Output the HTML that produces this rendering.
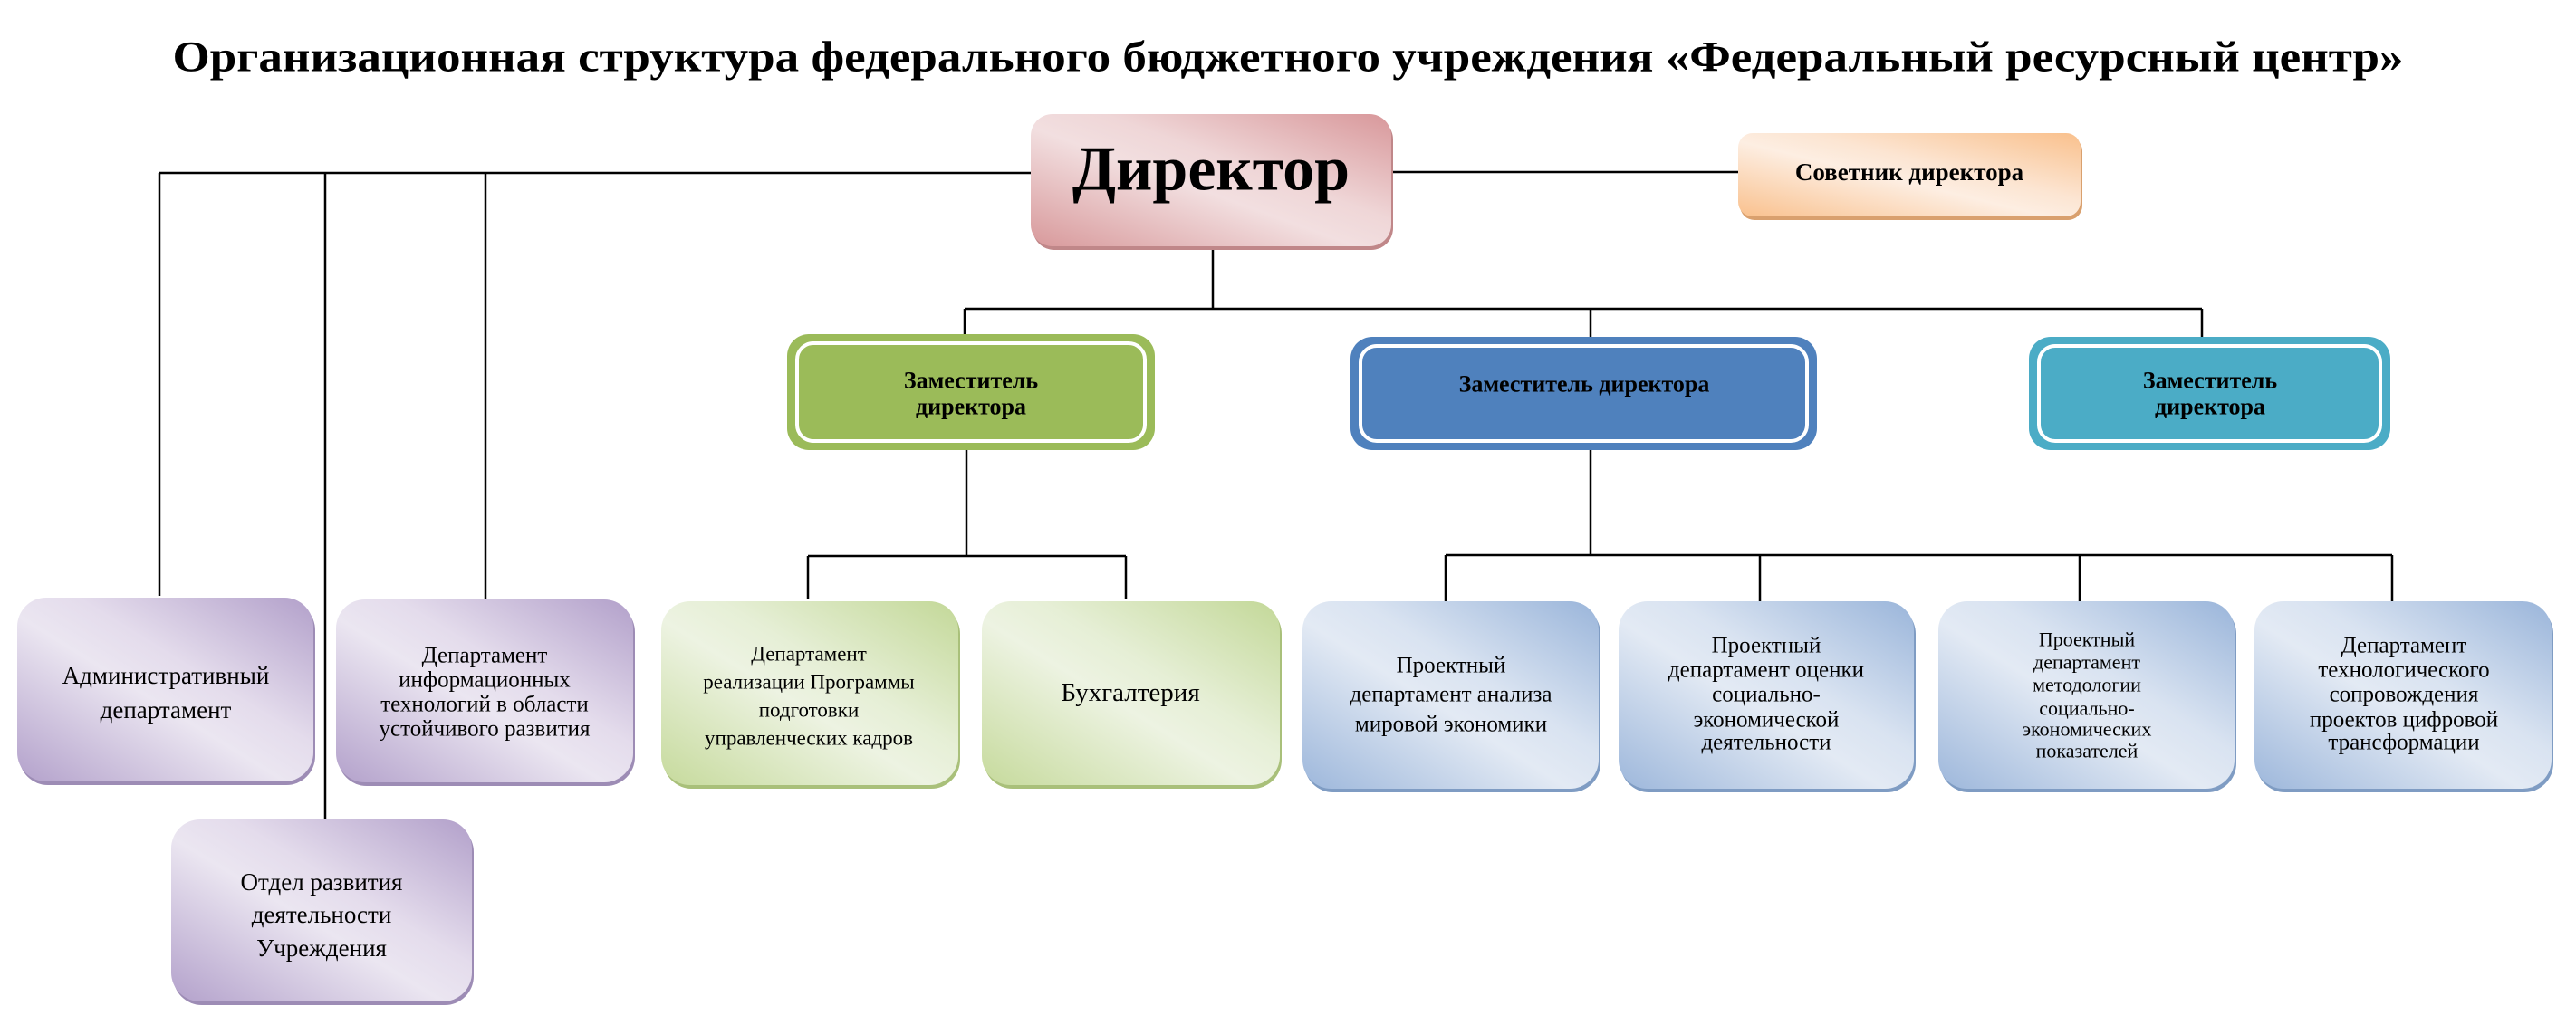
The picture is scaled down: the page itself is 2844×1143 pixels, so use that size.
<!DOCTYPE html>
<html><head><meta charset="utf-8"><style>
html,body{margin:0;padding:0;background:#fff;}
svg{display:block;}
text{font-family:"Liberation Serif","Noto Serif CJK SC",serif;fill:#000;}
</style></head><body>
<svg width="2844" height="1143" viewBox="0 0 2844 1143" xmlns="http://www.w3.org/2000/svg">
<defs>
<linearGradient id="gP" x1="0" y1="1" x2="1" y2="0">
<stop offset="0" stop-color="#b3a1cb"/><stop offset="0.45" stop-color="#ebe6f1"/><stop offset="0.6" stop-color="#e4dcec"/><stop offset="1" stop-color="#b2a0ca"/></linearGradient>
<linearGradient id="gG" x1="0" y1="1" x2="1" y2="0">
<stop offset="0" stop-color="#c6da9c"/><stop offset="0.45" stop-color="#edf3e2"/><stop offset="0.6" stop-color="#e6efd6"/><stop offset="1" stop-color="#c3d898"/></linearGradient>
<linearGradient id="gB" x1="0" y1="1" x2="1" y2="0">
<stop offset="0" stop-color="#9db7db"/><stop offset="0.45" stop-color="#e3eaf4"/><stop offset="0.6" stop-color="#d9e3f1"/><stop offset="1" stop-color="#9ab5da"/></linearGradient>
<linearGradient id="gR" x1="0" y1="1" x2="1" y2="0">
<stop offset="0" stop-color="#d8999b"/><stop offset="0.45" stop-color="#f2dfe0"/><stop offset="0.6" stop-color="#efd6d7"/><stop offset="1" stop-color="#d8979a"/></linearGradient>
<linearGradient id="gO" x1="0" y1="1" x2="1" y2="0">
<stop offset="0" stop-color="#f9c18e"/><stop offset="0.45" stop-color="#fdeee2"/><stop offset="0.6" stop-color="#fce5d2"/><stop offset="1" stop-color="#f9c08c"/></linearGradient>
</defs>

<text x="1422" y="63" text-anchor="middle" dominant-baseline="central" font-size="48" font-weight="bold" textLength="2463" lengthAdjust="spacingAndGlyphs">Организационная структура федерального бюджетного учреждения «Федеральный ресурсный центр»</text>

<g stroke="#000" stroke-width="2.5" fill="none">
<path d="M176 191H1138M176 191V658M359 191V905M536 191V662"/>
<path d="M1536 190H1919"/>
<path d="M1339 272V341M1065 341H2431M1065 341V369M1756 341V372M2431 341V372"/>
<path d="M1067 497V614M892 614H1243M892 614V662M1243 614V662"/>
<path d="M1756 497V613M1596 613H2641M1596 613V664M1943 613V664M2296 613V664M2641 613V664"/>
</g>

<rect x="1140" y="130" width="398" height="146" rx="24" fill="#c08789"/>
<rect x="1138" y="126" width="398" height="146" rx="24" fill="url(#gR)"/>
<text x="1337" y="187" text-anchor="middle" dominant-baseline="central" font-size="70" font-weight="bold">Директор</text>

<rect x="1921" y="151" width="378" height="92" rx="16" fill="#d9a06e"/>
<rect x="1919" y="147" width="378" height="92" rx="16" fill="url(#gO)"/>
<text x="2108" y="190" text-anchor="middle" dominant-baseline="central" font-size="27" font-weight="bold">Советник директора</text>

<rect x="869" y="369" width="406" height="128" rx="24" fill="#9bbb59"/>
<rect x="880" y="379" width="384" height="108" rx="18" fill="none" stroke="#fff" stroke-width="4"/>
<text x="1072" y="420" text-anchor="middle" dominant-baseline="central" font-size="26" font-weight="bold">Заместитель</text>
<text x="1072" y="449" text-anchor="middle" dominant-baseline="central" font-size="26" font-weight="bold">директора</text>

<rect x="1491" y="372" width="515" height="125" rx="24" fill="#4f81bd"/>
<rect x="1502" y="382" width="493" height="105" rx="18" fill="none" stroke="#fff" stroke-width="4"/>
<text x="1749" y="424" text-anchor="middle" dominant-baseline="central" font-size="26" font-weight="bold">Заместитель директора</text>

<rect x="2240" y="372" width="399" height="125" rx="24" fill="#4bacc6"/>
<rect x="2251" y="382" width="377" height="105" rx="18" fill="none" stroke="#fff" stroke-width="4"/>
<text x="2440" y="420" text-anchor="middle" dominant-baseline="central" font-size="26" font-weight="bold">Заместитель</text>
<text x="2440" y="449" text-anchor="middle" dominant-baseline="central" font-size="26" font-weight="bold">директора</text>

<g>
<rect x="21" y="664" width="327" height="203" rx="32" fill="#9d8cb5"/>
<rect x="19" y="660" width="327" height="203" rx="32" fill="url(#gP)"/>
<rect x="373" y="666" width="328" height="202" rx="32" fill="#9d8cb5"/>
<rect x="371" y="662" width="328" height="202" rx="32" fill="url(#gP)"/>
<rect x="191" y="909" width="332" height="201" rx="32" fill="#9d8cb5"/>
<rect x="189" y="905" width="332" height="201" rx="32" fill="url(#gP)"/>
</g>
<g font-size="27" text-anchor="middle" dominant-baseline="central">
<text x="183" y="746">Административный</text>
<text x="183" y="784">департамент</text>
<text x="535" y="724" font-size="25">Департамент</text>
<text x="535" y="751" font-size="25">информационных</text>
<text x="535" y="778" font-size="25">технологий в области</text>
<text x="535" y="805" font-size="25">устойчивого развития</text>
<text x="355" y="974">Отдел развития</text>
<text x="355" y="1010">деятельности</text>
<text x="355" y="1047">Учреждения</text>
</g>

<rect x="732" y="668" width="328" height="203" rx="32" fill="#a9c07a"/>
<rect x="730" y="664" width="328" height="203" rx="32" fill="url(#gG)"/>
<rect x="1086" y="668" width="329" height="203" rx="32" fill="#a9c07a"/>
<rect x="1084" y="664" width="329" height="203" rx="32" fill="url(#gG)"/>
<g text-anchor="middle" dominant-baseline="central" font-size="23">
<text x="893" y="722">Департамент</text>
<text x="893" y="753">реализации Программы</text>
<text x="893" y="784">подготовки</text>
<text x="893" y="815">управленческих кадров</text>
<text x="1248" y="765" font-size="29">Бухгалтерия</text>
</g>

<g fill="#7f9cc3">
<rect x="1440" y="668" width="327" height="207" rx="32"/>
<rect x="1789" y="668" width="326" height="207" rx="32"/>
<rect x="2142" y="668" width="327" height="207" rx="32"/>
<rect x="2491" y="668" width="328" height="207" rx="32"/>
</g>
<g fill="url(#gB)">
<rect x="1438" y="664" width="327" height="207" rx="32"/>
<rect x="1787" y="664" width="326" height="207" rx="32"/>
<rect x="2140" y="664" width="327" height="207" rx="32"/>
<rect x="2489" y="664" width="328" height="207" rx="32"/>
</g>
<g text-anchor="middle" dominant-baseline="central" font-size="25">
<text x="1602" y="735">Проектный</text>
<text x="1602" y="767">департамент анализа</text>
<text x="1602" y="800">мировой экономики</text>
<text x="1950" y="713">Проектный</text>
<text x="1950" y="740">департамент оценки</text>
<text x="1950" y="767">социально-</text>
<text x="1950" y="795">экономической</text>
<text x="1950" y="820">деятельности</text>
<g font-size="22">
<text x="2304" y="706">Проектный</text>
<text x="2304" y="731">департамент</text>
<text x="2304" y="756">методологии</text>
<text x="2304" y="782">социально-</text>
<text x="2304" y="805">экономических</text>
<text x="2304" y="829">показателей</text>
</g>
<text x="2654" y="713">Департамент</text>
<text x="2654" y="740">технологического</text>
<text x="2654" y="767">сопровождения</text>
<text x="2654" y="795">проектов цифровой</text>
<text x="2654" y="820">трансформации</text>
</g>
</svg>
</body></html>
